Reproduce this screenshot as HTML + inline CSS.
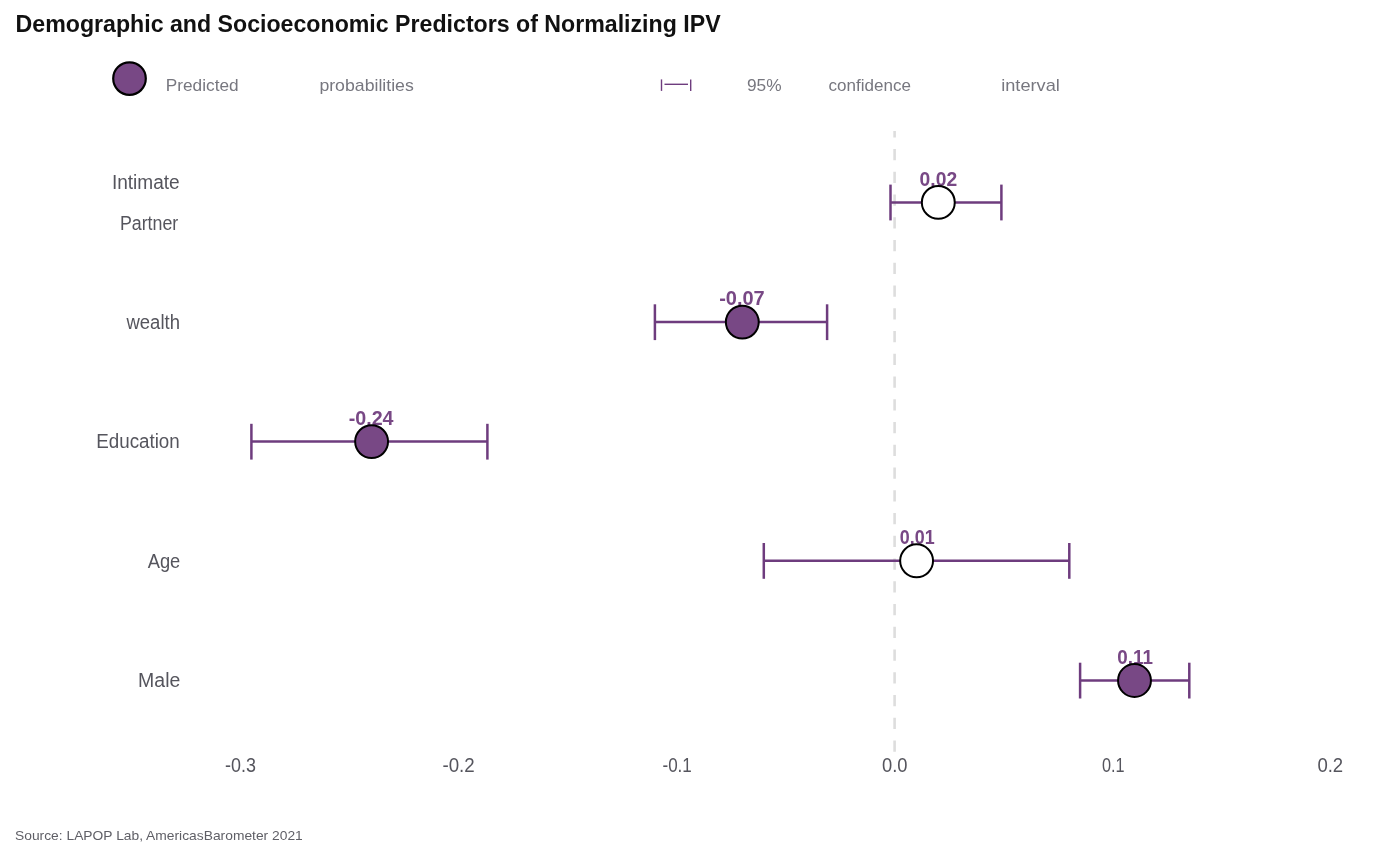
<!DOCTYPE html>
<html>
<head>
<meta charset="utf-8">
<style>
html,body{margin:0;padding:0;background:#fff;width:1400px;height:866px;overflow:hidden;}
svg{display:block;will-change:transform;}
text{font-family:"Liberation Sans",sans-serif;}
.ttl{font-size:24px;font-weight:bold;fill:#111;}
.leg{font-size:17px;fill:#77777f;}
.yl{font-size:20px;fill:#55555d;}
.xl{font-size:20px;fill:#55555d;}
.dl{font-size:19.5px;font-weight:bold;fill:#784885;}
.src{font-size:13px;fill:#5f5f66;}
</style>
</head>
<body>
<svg width="1400" height="866" viewBox="0 0 1400 866">
<rect width="1400" height="866" fill="#fff"/>
<!-- title -->
<text id="t_title" class="ttl" x="15.60" y="32" textLength="705.00" lengthAdjust="spacingAndGlyphs">Demographic and Socioeconomic Predictors of Normalizing IPV</text>

<!-- legend -->
<circle cx="129.5" cy="78.6" r="16.3" fill="#784885" stroke="#000" stroke-width="2.2"/>
<text id="t_pred" class="leg" x="165.80" y="91" textLength="72.80" lengthAdjust="spacingAndGlyphs">Predicted</text>
<text id="t_prob" class="leg" x="319.40" y="91" textLength="94.40" lengthAdjust="spacingAndGlyphs">probabilities</text>
<g stroke="#6e3c7e" stroke-width="1.4" fill="none">
<line x1="661.5" y1="79.4" x2="661.5" y2="90.9"/>
<line x1="664.5" y1="84.3" x2="688" y2="84.3"/>
<line x1="690.7" y1="79.4" x2="690.7" y2="90.9"/>
</g>
<text id="t_95" class="leg" x="747.00" y="91" textLength="34.60" lengthAdjust="spacingAndGlyphs">95%</text>
<text id="t_conf" class="leg" x="828.60" y="91" textLength="82.40" lengthAdjust="spacingAndGlyphs">confidence</text>
<text id="t_int" class="leg" x="1001.20" y="91" textLength="58.60" lengthAdjust="spacingAndGlyphs">interval</text>

<!-- y labels -->
<g class="yl" text-anchor="end">
<text id="y_int" x="179.70" y="188.8" textLength="67.80" lengthAdjust="spacingAndGlyphs">Intimate</text>
<text id="y_par" x="178.30" y="229.5" textLength="58.40" lengthAdjust="spacingAndGlyphs">Partner</text>
<text id="y_wea" x="179.90" y="328.8" textLength="53.40" lengthAdjust="spacingAndGlyphs">wealth</text>
<text id="y_edu" x="179.80" y="448" textLength="83.60" lengthAdjust="spacingAndGlyphs">Education</text>
<text id="y_age" x="180.30" y="568" textLength="32.60" lengthAdjust="spacingAndGlyphs">Age</text>
<text id="y_mal" x="180.30" y="687.1" textLength="42.20" lengthAdjust="spacingAndGlyphs">Male</text>
</g>

<!-- zero dashed line -->
<line x1="894.6" y1="131" x2="894.6" y2="752" stroke="#dddddd" stroke-width="2.6" stroke-dasharray="11.2 11.55" stroke-dashoffset="4.65"/>

<!-- error bars -->
<g stroke="#6e3c7e" stroke-width="2.5" fill="none">
<line x1="890.5" y1="202.4" x2="1001.4" y2="202.4"/>
<line x1="890.5" y1="184.6" x2="890.5" y2="220.4"/>
<line x1="1001.4" y1="184.6" x2="1001.4" y2="220.4"/>

<line x1="654.9" y1="322.1" x2="827.1" y2="322.1"/>
<line x1="654.9" y1="304.3" x2="654.9" y2="340.1"/>
<line x1="827.1" y1="304.3" x2="827.1" y2="340.1"/>

<line x1="251.4" y1="441.6" x2="487.4" y2="441.6"/>
<line x1="251.4" y1="423.8" x2="251.4" y2="459.6"/>
<line x1="487.4" y1="423.8" x2="487.4" y2="459.6"/>

<line x1="763.8" y1="560.8" x2="1069.3" y2="560.8"/>
<line x1="763.8" y1="543" x2="763.8" y2="578.8"/>
<line x1="1069.3" y1="543" x2="1069.3" y2="578.8"/>

<line x1="1080.1" y1="680.5" x2="1189.3" y2="680.5"/>
<line x1="1080.1" y1="662.7" x2="1080.1" y2="698.5"/>
<line x1="1189.3" y1="662.7" x2="1189.3" y2="698.5"/>
</g>


<!-- data labels -->
<g class="dl" text-anchor="middle">
<text id="d_1" x="938.35" y="185.5" textLength="37.50" lengthAdjust="spacingAndGlyphs">0.02</text>
<text id="d_2" x="741.95" y="305.2" textLength="45.60" lengthAdjust="spacingAndGlyphs">-0.07</text>
<text id="d_3" x="371.10" y="424.7" textLength="44.90" lengthAdjust="spacingAndGlyphs">-0.24</text>
<text id="d_4" x="917.20" y="543.9" textLength="34.80" lengthAdjust="spacingAndGlyphs">0.01</text>
<text id="d_5" x="1135.15" y="663.6" textLength="35.60" lengthAdjust="spacingAndGlyphs">0.11</text>
</g>

<!-- points -->
<g stroke="#000" stroke-width="2">
<circle cx="938.3" cy="202.4" r="16.45" fill="#fff"/>
<circle cx="742.3" cy="322.1" r="16.45" fill="#784885"/>
<circle cx="371.6" cy="441.6" r="16.45" fill="#784885"/>
<circle cx="916.6" cy="560.8" r="16.45" fill="#fff"/>
<circle cx="1134.5" cy="680.5" r="16.45" fill="#784885"/>
</g>

<!-- x axis labels -->
<g class="xl" text-anchor="middle">
<text id="x_m3" x="240.55" y="771.6" textLength="30.90" lengthAdjust="spacingAndGlyphs">-0.3</text>
<text id="x_m2" x="458.60" y="771.6" textLength="32.27" lengthAdjust="spacingAndGlyphs">-0.2</text>
<text id="x_m1" x="677.15" y="771.6" textLength="29.37" lengthAdjust="spacingAndGlyphs">-0.1</text>
<text id="x_0" x="894.75" y="771.6" textLength="25.51" lengthAdjust="spacingAndGlyphs">0.0</text>
<text id="x_1" x="1113.20" y="771.6" textLength="22.61" lengthAdjust="spacingAndGlyphs">0.1</text>
<text id="x_2" x="1330.30" y="771.6" textLength="25.81" lengthAdjust="spacingAndGlyphs">0.2</text>
</g>

<!-- source -->
<text id="src" class="src" x="15.00" y="840" textLength="287.80" lengthAdjust="spacingAndGlyphs">Source: LAPOP Lab, AmericasBarometer 2021</text>
</svg>
</body>
</html>
